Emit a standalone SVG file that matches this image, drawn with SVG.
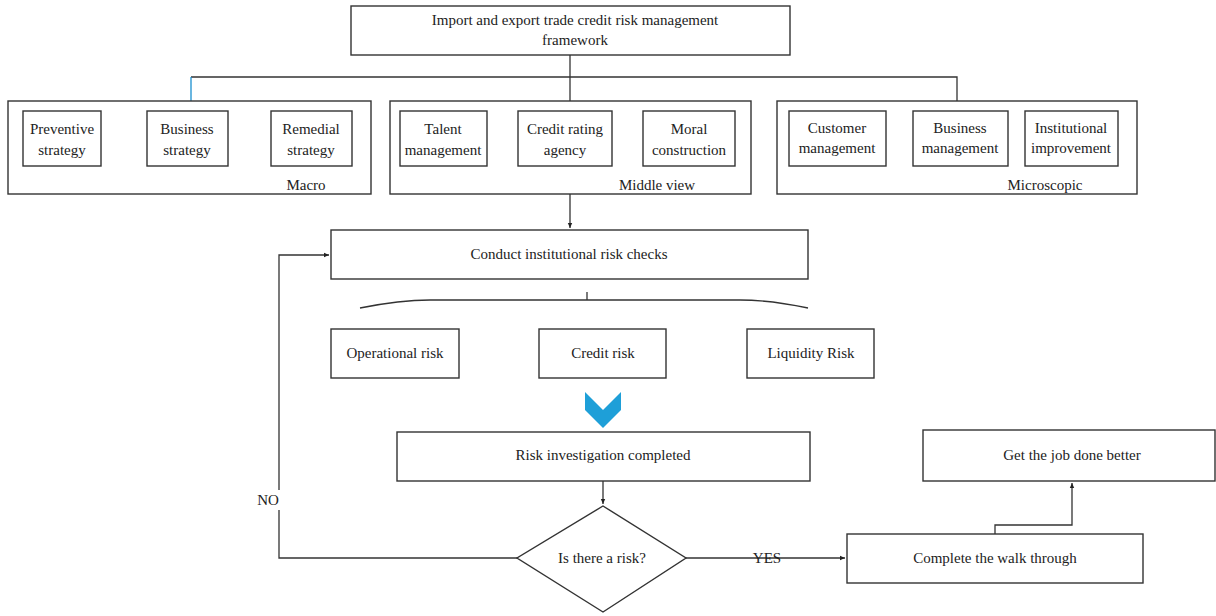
<svg xmlns="http://www.w3.org/2000/svg" width="1216" height="616" viewBox="0 0 1216 616">
<defs>
<marker id="arr" markerWidth="6" markerHeight="6" refX="5" refY="3" orient="auto" markerUnits="userSpaceOnUse">
<path d="M0,0.8 L5,3 L0,5.2 z" fill="#222"/>
</marker>
<style>
.box{fill:#fff;stroke:#333;stroke-width:1.4}
.ln{fill:none;stroke:#333;stroke-width:1.3}
.t{font-family:"Liberation Serif",serif;font-size:15px;fill:#222;text-anchor:middle}
</style>
</defs>
<rect width="1216" height="616" fill="#fff"/>
<g id="connectors">
<path class="ln" d="M570,55 V101"/>
<path class="ln" d="M191,77 H957 V101"/>
<path d="M191,77 V101" fill="none" stroke="#1a8fd0" stroke-width="1.3"/>
<path class="ln" d="M570,194 V228" marker-end="url(#arr)"/>
<path class="ln" d="M360,308 Q400,300 430,300 H740 Q770,300 808,308"/>
<path class="ln" d="M587,292 V300"/>
<path class="ln" d="M603,481 V504" marker-end="url(#arr)"/>
<path class="ln" d="M517,558 H279 V510 M279,490 V255 H329" marker-end="url(#arr)"/>
<path class="ln" d="M686,558 H845" marker-end="url(#arr)"/>
<path class="ln" d="M995,534 V525 H1072 V483" marker-end="url(#arr)"/>
<polygon points="585,392 603,410 621,392 621,410 603,428 585,410" fill="#1e9fd8"/>
<text class="t" x="268" y="505">NO</text>
<text class="t" x="767" y="563">YES</text>
</g>
<g id="n-top">
<rect class="box" x="351" y="6" width="439" height="49"/>
<text class="t" x="575" y="25">Import and export trade credit risk management</text>
<text class="t" x="575" y="45">framework</text>
</g>
<g id="n-macro">
<rect class="box" x="8" y="101" width="363" height="93"/>
<text class="t" x="306" y="190">Macro</text>
</g>
<g id="n-preventive"><rect class="box" x="23" y="111" width="78" height="55"/><text class="t" x="62" y="134">Preventive</text><text class="t" x="62" y="155">strategy</text></g>
<g id="n-business"><rect class="box" x="147" y="111" width="81" height="55"/><text class="t" x="187" y="134">Business</text><text class="t" x="187" y="155">strategy</text></g>
<g id="n-remedial"><rect class="box" x="271" y="111" width="81" height="55"/><text class="t" x="311" y="134">Remedial</text><text class="t" x="311" y="155">strategy</text></g>
<g id="n-middle">
<rect class="box" x="390" y="101" width="361" height="93"/>
<text class="t" x="657" y="190">Middle view</text>
</g>
<g id="n-talent"><rect class="box" x="400" y="111" width="87" height="55"/><text class="t" x="443" y="134">Talent</text><text class="t" x="443" y="155">management</text></g>
<g id="n-credit-agency"><rect class="box" x="518" y="111" width="94" height="55"/><text class="t" x="565" y="134">Credit rating</text><text class="t" x="565" y="155">agency</text></g>
<g id="n-moral"><rect class="box" x="643" y="111" width="92" height="55"/><text class="t" x="689" y="134">Moral</text><text class="t" x="689" y="155">construction</text></g>
<g id="n-micro">
<rect class="box" x="777" y="101" width="360" height="93"/>
<text class="t" x="1045" y="190">Microscopic</text>
</g>
<g id="n-customer"><rect class="box" x="789" y="111" width="97" height="55"/><text class="t" x="837" y="133">Customer</text><text class="t" x="837" y="153">management</text></g>
<g id="n-bizmgmt"><rect class="box" x="913" y="111" width="95" height="55"/><text class="t" x="960" y="133">Business</text><text class="t" x="960" y="153">management</text></g>
<g id="n-inst"><rect class="box" x="1025" y="111" width="93" height="55"/><text class="t" x="1071" y="133">Institutional</text><text class="t" x="1071" y="153">improvement</text></g>
<g id="n-conduct"><rect class="box" x="331" y="230" width="477" height="49"/><text class="t" x="569" y="259">Conduct institutional risk checks</text></g>
<g id="n-operational"><rect class="box" x="331" y="329" width="128" height="49"/><text class="t" x="395" y="358">Operational risk</text></g>
<g id="n-creditrisk"><rect class="box" x="539" y="329" width="127" height="49"/><text class="t" x="603" y="358">Credit risk</text></g>
<g id="n-liquidity"><rect class="box" x="747" y="329" width="127" height="49"/><text class="t" x="811" y="358">Liquidity Risk</text></g>
<g id="n-riskdone"><rect class="box" x="397" y="432" width="413" height="49"/><text class="t" x="603" y="460">Risk investigation completed</text></g>
<g id="n-decision"><polygon class="box" points="603,506 686,558 603,612 517,558"/><text class="t" x="602" y="563">Is there a risk?</text></g>
<g id="n-walk"><rect class="box" x="847" y="534" width="296" height="49"/><text class="t" x="995" y="563">Complete the walk through</text></g>
<g id="n-better"><rect class="box" x="923" y="430" width="292" height="51"/><text class="t" x="1072" y="460">Get the job done better</text></g>
</svg>
